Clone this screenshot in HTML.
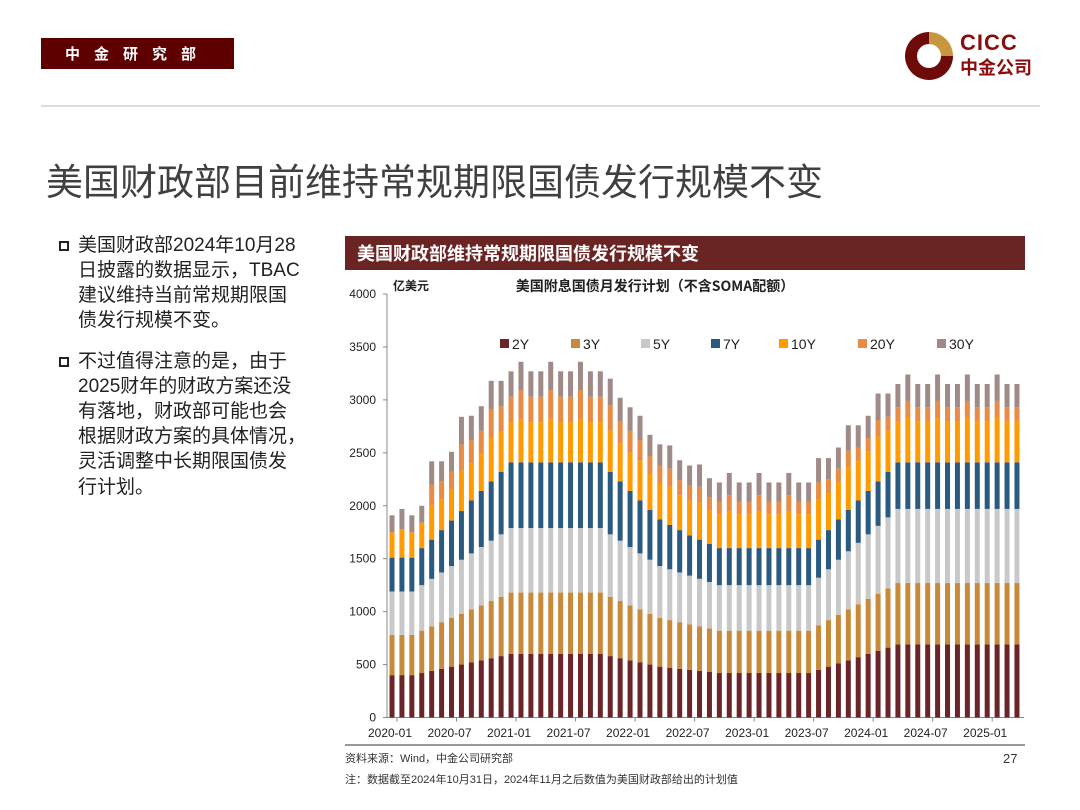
<!DOCTYPE html>
<html><head><meta charset="utf-8">
<style>
body{margin:0;width:1080px;height:810px;background:#fff;font-family:"Liberation Sans","Noto Sans CJK SC",sans-serif;position:relative;overflow:hidden}
.abs{position:absolute}
#bullets div{position:absolute;left:78px;font-size:19px;color:#222;line-height:25px;white-space:nowrap}
.sq{position:absolute;left:59px;width:10px;height:10px;border:2px solid #222;box-sizing:border-box}
</style></head><body>
<div class="abs" style="left:41px;top:38px;width:193px;height:31px;background:#5e0000;color:#fff;font-size:15px;font-weight:bold;line-height:31px;text-align:center;letter-spacing:14px;font-family:'Noto Sans CJK SC',sans-serif">中金研究部</div>
<div class="abs" style="left:903px;top:30px;width:150px;height:52px">
<svg width="52" height="52" viewBox="0 0 52 52" style="position:absolute;left:0;top:0">
<path d="M26 2 A24 24 0 1 0 50 26 L38 26 A12 12 0 1 1 26 14 Z" fill="#6e0a0a"/>
<path d="M26 2 A24 24 0 0 1 50 26 L38 26 A12 12 0 0 0 26 14 Z" fill="#c8963e"/>
</svg>
<div class="abs" style="left:57px;top:0px;font-size:22px;font-weight:bold;color:#8a0e0e;letter-spacing:1px">CICC</div>
<div class="abs" style="left:57px;top:24px;font-size:18px;font-weight:bold;color:#8a0e0e;font-family:'Noto Sans CJK SC',sans-serif">中金公司</div>
</div>
<div class="abs" style="left:41px;top:105px;width:999px;height:2px;background:#dcdcdc"></div>
<div class="abs" style="left:46px;top:152px;font-size:37px;color:#404040;white-space:nowrap;font-family:'Noto Sans CJK SC',sans-serif">美国财政部目前维持常规期限国债发行规模不变</div>
<div id="bullets">
<span class="sq" style="top:241px"></span>
<div style="top:233px">美国财政部2024年10月28</div>
<div style="top:258px">日披露的数据显示，TBAC</div>
<div style="top:283px">建议维持当前常规期限国</div>
<div style="top:308px">债发行规模不变。</div>
<span class="sq" style="top:357px"></span>
<div style="top:349px">不过值得注意的是，由于</div>
<div style="top:374px">2025财年的财政方案还没</div>
<div style="top:399px">有落地，财政部可能也会</div>
<div style="top:424px">根据财政方案的具体情况，</div>
<div style="top:449px">灵活调整中长期限国债发</div>
<div style="top:475px">行计划。</div>
</div>
<div class="abs" style="left:345px;top:236px;width:680px;height:34px;background:#6b2424;color:#fff;font-size:18px;font-weight:bold;line-height:34px;padding-left:12px;box-sizing:border-box;font-family:'Noto Sans CJK SC',sans-serif">美国财政部维持常规期限国债发行规模不变</div>
<svg id="chart" class="abs" style="left:0;top:0" width="1080" height="810"></svg>
<div class="abs" style="left:345px;top:744px;width:680px;height:2px;background:#999"></div>
<div class="abs" style="left:345px;top:750px;font-size:11px;color:#333">资料来源：Wind，中金公司研究部</div>
<div class="abs" style="left:1003px;top:751px;font-size:13px;color:#333">27</div>
<div class="abs" style="left:345px;top:771px;font-size:11px;color:#333">注：数据截至2024年10月31日，2024年11月之后数值为美国财政部给出的计划值</div>
<script>
const months = ['2020-01','2020-02','2020-03','2020-04','2020-05','2020-06','2020-07','2020-08','2020-09','2020-10','2020-11','2020-12',
'2021-01','2021-02','2021-03','2021-04','2021-05','2021-06','2021-07','2021-08','2021-09','2021-10','2021-11','2021-12',
'2022-01','2022-02','2022-03','2022-04','2022-05','2022-06','2022-07','2022-08','2022-09','2022-10','2022-11','2022-12',
'2023-01','2023-02','2023-03','2023-04','2023-05','2023-06','2023-07','2023-08','2023-09','2023-10','2023-11','2023-12',
'2024-01','2024-02','2024-03','2024-04','2024-05','2024-06','2024-07','2024-08','2024-09','2024-10','2024-11','2024-12',
'2025-01','2025-02','2025-03','2025-04'];
const seriesNames = ['2Y','3Y','5Y','7Y','10Y','20Y','30Y'];
const y2 = [400,400,400,420,440,460,480,500,520,540,560,580, 600,600,600,600,600,600,600,600,600,600,580,560, 540,520,500,480,470,460,450,440,430,420,420,420, 420,420,420,420,420,420,420,450,480,510,540,570, 600,630,660,690,690,690,690,690,690,690,690,690, 690,690,690,690];
const y3 = [380,380,380,400,420,440,460,480,500,520,540,560, 580,580,580,580,580,580,580,580,580,580,560,540, 520,500,480,460,450,440,430,420,410,400,400,400, 400,400,400,400,400,400,400,420,440,460,480,500, 520,540,560,580,580,580,580,580,580,580,580,580, 580,580,580,580];
const y5 = [410,410,410,430,450,470,490,510,530,550,570,590, 610,610,610,610,610,610,610,610,610,610,590,570, 550,530,510,490,480,470,460,450,440,430,430,430, 430,430,430,430,430,430,430,450,480,520,550,580, 610,640,670,700,700,700,700,700,700,700,700,700, 700,700,700,700];
const y7 = [320,320,320,350,370,400,430,460,500,530,560,590, 620,620,620,620,620,620,620,620,620,620,590,560, 530,500,470,440,420,400,380,370,360,350,350,350, 350,350,350,350,350,350,350,360,370,380,390,400, 410,420,430,440,440,440,440,440,440,440,440,440, 440,440,440,440];
const y10 = [240,270,240,240,320,290,290,380,350,350,410,380, 380,410,380,380,410,380,380,410,380,380,390,360, 360,370,340,340,360,330,330,350,320,320,350,320, 320,350,320,320,350,320,320,380,350,350,400,370, 370,420,390,390,420,390,390,420,390,390,420,390, 390,420,390,390];
const y20 = [0,0,0,0,200,170,170,250,220,220,270,240, 240,270,240,240,270,240,240,270,240,240,240,210, 210,200,170,170,170,140,140,150,120,120,150,120, 120,150,120,120,150,120,120,160,130,130,160,130, 130,160,130,130,160,130,130,160,130,130,160,130, 130,160,130,130];
const y30 = [160,190,160,160,220,190,190,260,230,230,270,240, 240,270,240,240,270,240,240,270,240,240,250,220, 220,230,200,200,220,190,190,210,180,180,210,180, 180,210,180,180,210,180,180,230,200,200,240,210, 210,250,220,220,250,220,220,250,220,220,250,220, 220,250,220,220];
const yTicks = [0,500,1000,1500,2000,2500,3000,3500,4000];
const colors = ['#6b2427','#c8893a','#c8c8c8','#2a5a80','#ff9a00','#e88b45','#a08a88'];
const series=[y2,y3,y5,y7,y10,y20,y30];
const NS='http://www.w3.org/2000/svg';
const svg=document.getElementById('chart');
const X0=387, Y0=717.5, Y1=294, XMAX=4000;
function yScale(v){return Y0-(v/XMAX)*(Y0-Y1);}
function xScale(i){return 392+i*9.92;}
function mk(t,a){const e=document.createElementNS(NS,t);for(const k in a)e.setAttribute(k,a[k]);svg.appendChild(e);return e;}
const ax=mk('line',{x1:X0,y1:Y1,x2:X0,y2:Y0,stroke:'#888','stroke-width':1});


const bx=mk('line',{x1:X0,y1:Y0,x2:1024,y2:Y0,stroke:'#888','stroke-width':1});


yTicks.forEach(v=>{
  const y=yScale(v);
  const tk=mk('line',{x1:X0-4,y1:y,x2:X0,y2:y,stroke:'#888'});
  
  
  const t=mk('text',{x:376,y:y+4,'text-anchor':'end','font-size':12,fill:'#222','font-family':'Liberation Sans,sans-serif'});
  t.textContent=v;
  
  
});
months.forEach((m,i)=>{
  let acc=0;
  series.forEach((s,k)=>{
    const v=s[i];
    if(!v)return;
    const r=mk('rect',{x:xScale(i)-2.5,y:yScale(acc+v),width:5,height:yScale(acc)-yScale(acc+v),fill:colors[k]});
    
    
    acc+=v;
  });
  if(i%6===0){
    const t=mk('text',{x:xScale(i)-2,y:737,'text-anchor':'middle','font-size':12,fill:'#222','font-family':'Liberation Sans,sans-serif'});
    t.textContent=m;
    
    
    const tk=mk('line',{x1:xScale(i)+5,y1:Y0,x2:xScale(i)+5,y2:Y0+4,stroke:'#888'});
    
    
  }
});
const u=mk('text',{x:393,y:290,'font-size':12,'font-weight':'bold',fill:'#222','font-family':'Noto Sans CJK SC,sans-serif'});
u.textContent='亿美元';


const ct=mk('text',{x:655,y:291,'text-anchor':'middle','font-size':14,'font-weight':'bold',fill:'#222','font-family':'Noto Sans CJK SC,sans-serif'});
ct.textContent='美国附息国债月发行计划（不含SOMA配额）';


const lx=[500,571,641,711,779,858,937];
seriesNames.forEach((n,k)=>{
  const r=mk('rect',{x:lx[k],y:339,width:9,height:9,fill:colors[k]});
  
  
  const t=mk('text',{x:lx[k]+12,y:349,'font-size':14,fill:'#222','font-family':'Liberation Sans,sans-serif'});
  t.textContent=n;
  
  
});
</script>
</body></html>
